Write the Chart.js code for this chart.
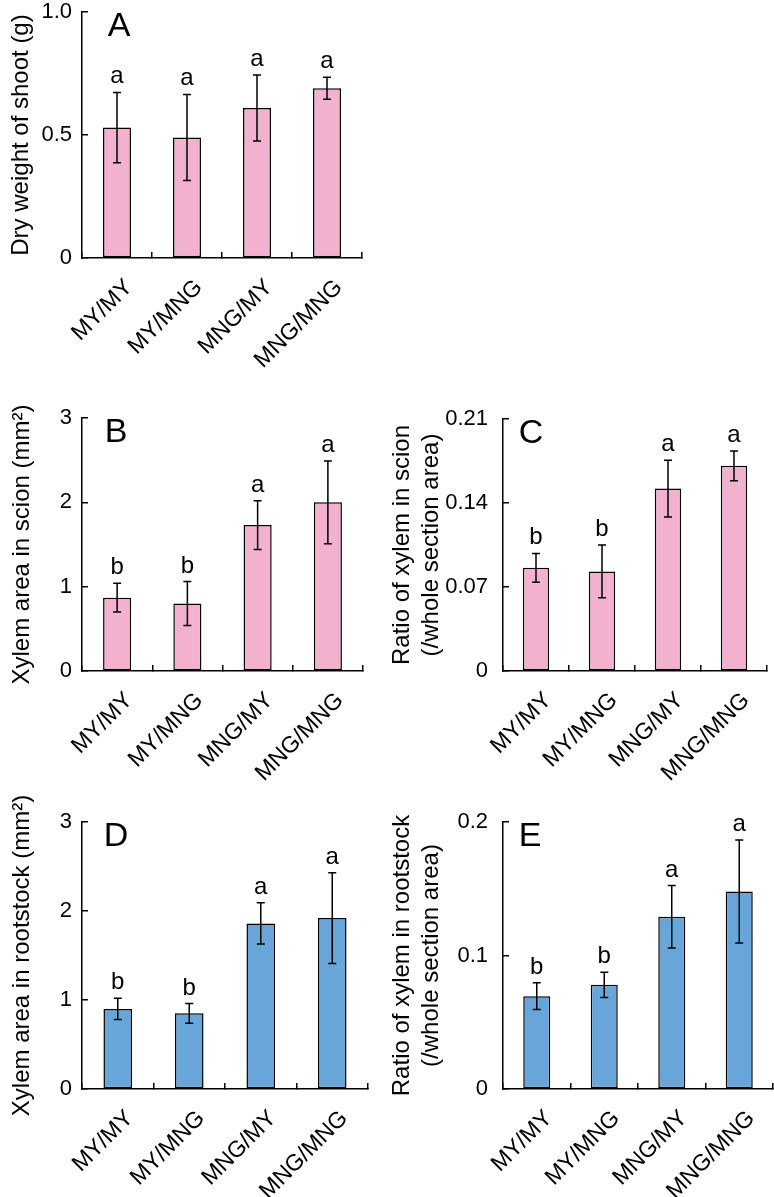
<!DOCTYPE html>
<html lang="en">
<head>
<meta charset="UTF-8">
<title>Shoot weight and xylem area</title>
<style>
  body { margin: 0; background: #fff; }
  .page { position: relative; width: 774px; height: 1197px; overflow: hidden; }
  .page canvas { position: absolute; }
</style>
</head>
<body>
<div class="page">
  <canvas id="panelA" width="385" height="392" style="left:0;top:0"></canvas>
  <canvas id="panelB" width="385" height="392" style="left:0;top:400px"></canvas>
  <canvas id="panelC" width="389" height="392" style="left:385px;top:400px"></canvas>
  <canvas id="panelD" width="385" height="417" style="left:0;top:780px"></canvas>
  <canvas id="panelE" width="389" height="417" style="left:385px;top:780px"></canvas>
</div>

<script src="https://cdn.jsdelivr.net/npm/chart.js"></script>
<script>
// grafting combinations (scion/rootstock)
const categories = ['MY/MY', 'MY/MNG', 'MNG/MY', 'MNG/MNG'];

// A: dry weight of shoot (g)
const shootWeight = [0.53, 0.49, 0.61, 0.69];
const shootWeightErr = [0.143, 0.175, 0.134, 0.045];
const shootLetters = ['a', 'a', 'a', 'a'];
const shootTicks = [0, 0.5, 1.0];

// B: xylem area in scion (mm2)
const scionArea = [0.87, 0.80, 1.73, 2.0];
const scionAreaErr = [0.17, 0.26, 0.29, 0.49];
const scionAreaLetters = ['b', 'b', 'a', 'a'];
const scionAreaTicks = [0, 1, 2, 3];

// C: ratio of xylem in scion
const scionRatio = [0.086, 0.083, 0.152, 0.171];
const scionRatioErr = [0.012, 0.022, 0.0237, 0.0124];
const scionRatioLetters = ['b', 'b', 'a', 'a'];
const scionRatioTicks = [0, 0.07, 0.14, 0.21];

// D: xylem area in rootstock (mm2)
const rootArea = [0.90, 0.85, 1.86, 1.92];
const rootAreaErr = [0.12, 0.11, 0.232, 0.51];
const rootAreaLetters = ['b', 'b', 'a', 'a'];
const rootAreaTicks = [0, 1, 2, 3];

// E: ratio of xylem in rootstock
const rootRatio = [0.0695, 0.078, 0.129, 0.148];
const rootRatioErr = [0.010, 0.0095, 0.0234, 0.0386];
const rootRatioLetters = ['b', 'b', 'a', 'a'];
const rootRatioTicks = [0, 0.1, 0.2];

const PINK = '#F1B1CF';
const BLUE = '#68A6DA';
const FONT = "'Liberation Sans', Arial, Helvetica, sans-serif";

// error bars, significance letters and the panel letter
const annotatePlugin = {
  id: 'annotate',
  afterDatasetsDraw(chart, args, opts) {
    const ctx = chart.ctx;
    const y = chart.scales.y;
    const bars = chart.getDatasetMeta(0).data;
    ctx.save();
    ctx.strokeStyle = '#000';
    ctx.lineWidth = 1.5;
    ctx.fillStyle = '#000';
    ctx.font = '24px ' + FONT;
    ctx.textAlign = 'center';
    ctx.textBaseline = 'alphabetic';
    bars.forEach((bar, i) => {
      const top = y.getPixelForValue(opts.values[i] + opts.errors[i]);
      const bot = y.getPixelForValue(opts.values[i] - opts.errors[i]);
      ctx.beginPath();
      ctx.moveTo(bar.x, top); ctx.lineTo(bar.x, bot);
      ctx.moveTo(bar.x - 4, top); ctx.lineTo(bar.x + 4, top);
      ctx.moveTo(bar.x - 4, bot); ctx.lineTo(bar.x + 4, bot);
      ctx.stroke();
      ctx.fillText(opts.letters[i], bar.x, top - 9);
    });
    ctx.font = '34px ' + FONT;
    ctx.textBaseline = 'middle';
    ctx.fillText(opts.panel, chart.chartArea.left + opts.panelDx, chart.chartArea.top + 15);
    ctx.restore();
  }
};

function makePanel(id, panel, values, errors, letters, yTicks, decimals, title, color, box) {
  const ctx = document.getElementById(id).getContext('2d');
  return new Chart(ctx, {
    type: 'bar',
    data: {
      labels: categories,
      datasets: [{
        data: values,
        backgroundColor: color,
        borderColor: '#000',
        borderWidth: 1.5,
        borderSkipped: false,
        categoryPercentage: 1.0,
        barPercentage: 0.4
      }]
    },
    options: {
      responsive: false,
      animation: false,
      layout: { padding: { top: box.top, right: box.right, left: 0, bottom: 0 } },
      plugins: {
        legend: { display: false },
        tooltip: { enabled: false },
        annotate: { values: values, errors: errors, letters: letters, panel: panel, panelDx: box.panelDx }
      },
      scales: {
        x: {
          grid: { drawOnChartArea: false, tickLength: -6, color: '#000', lineWidth: 1.5, offset: true },
          border: { color: '#000', width: 1.5 },
          ticks: {
            color: '#000',
            font: { family: FONT, size: 23 },
            minRotation: 45,
            maxRotation: 45,
            padding: 22,
            labelOffset: 12,
            autoSkip: false
          },
          afterFit: s => {
            s.height = box.xHeight;
            s.paddingLeft = 0;
            s.paddingRight = 0;
          }
        },
        y: {
          min: yTicks[0],
          max: yTicks[yTicks.length - 1],
          grid: { drawOnChartArea: false, tickLength: -6, color: '#000', lineWidth: 1.5 },
          border: { color: '#000', width: 1.5 },
          ticks: {
            color: '#000',
            font: { family: FONT, size: 22 },
            padding: box.tickPad,
            callback: v => (v === 0 ? '0' : v.toFixed(decimals))
          },
          afterBuildTicks: s => { s.ticks = yTicks.map(v => ({ value: v })); },
          title: {
            display: true,
            text: title,
            color: '#000',
            font: { family: FONT, size: 24 },
            padding: { top: box.titlePad, bottom: 0 }
          },
          afterFit: s => {
            s.width = box.yWidth;
            s.paddingTop = 0;
            s.paddingBottom = 0;
          }
        }
      }
    },
    plugins: [annotatePlugin]
  });
}

makePanel('panelA', 'A', shootWeight, shootWeightErr, shootLetters, shootTicks, 1,
  'Dry weight of shoot (g)', PINK,
  { top: 12, right: 23, xHeight: 134, yWidth: 82, tickPad: 16, titlePad: 7, panelDx: 37 });

makePanel('panelB', 'B', scionArea, scionAreaErr, scionAreaLetters, scionAreaTicks, 0,
  'Xylem area in scion (mm\u00B2)', PINK,
  { top: 18, right: 22, xHeight: 121, yWidth: 82, tickPad: 16, titlePad: 8, panelDx: 34 });

makePanel('panelC', 'C', scionRatio, scionRatioErr, scionRatioLetters, scionRatioTicks, 2,
  ['Ratio of xylem in scion', '(/whole section area)'], PINK,
  { top: 19, right: 7, xHeight: 121, yWidth: 118, tickPad: 21, titlePad: 3, panelDx: 28 });

makePanel('panelD', 'D', rootArea, rootAreaErr, rootAreaLetters, rootAreaTicks, 0,
  'Xylem area in rootstock (mm\u00B2)', BLUE,
  { top: 42, right: 17, xHeight: 108, yWidth: 82, tickPad: 16, titlePad: 8, panelDx: 34 });

makePanel('panelE', 'E', rootRatio, rootRatioErr, rootRatioLetters, rootRatioTicks, 1,
  ['Ratio of xylem in rootstock', '(/whole section area)'], BLUE,
  { top: 42, right: 1, xHeight: 108, yWidth: 118, tickPad: 21, titlePad: 3, panelDx: 27 });
</script>
</body>
</html>
